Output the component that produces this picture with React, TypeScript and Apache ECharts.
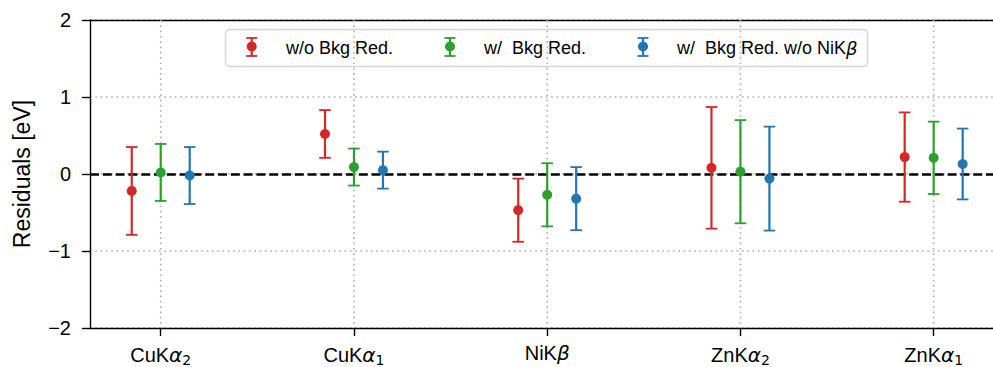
import React, { useEffect, useRef } from "react";
import * as echarts from "echarts";

// ---- data ----
const labelBase = ["CuK", "CuK", "NiK", "ZnK", "ZnK"];
const labelGreek = ["α", "α", "β", "α", "α"];
const labelSub = ["2", "1", "", "2", "1"];

const seriesNames = ["w/o Bkg Red.", "w/  Bkg Red.", "w/  Bkg Red. w/o NiK"];
const seriesNameGreek = ["", "", "β"];

const redValues = [-0.22, 0.52, -0.47, 0.08, 0.22];
const redErrors = [0.57, 0.31, 0.41, 0.79, 0.58];
const greenValues = [0.02, 0.09, -0.27, 0.03, 0.21];
const greenErrors = [0.37, 0.24, 0.41, 0.67, 0.47];
const blueValues = [-0.02, 0.05, -0.32, -0.06, 0.13];
const blueErrors = [0.37, 0.24, 0.41, 0.675, 0.46];

const yTicks = [-2, -1, 0, 1, 2];

// ---- styles ----
const COLORS = ["#d62728", "#2ca02c", "#1f77b4"];
const OFFSETS = [-0.15, 0, 0.15];
const FONT = "'Liberation Sans', Arial, Helvetica, sans-serif";
const MATH = "'DejaVu Sans', sans-serif";
const GRID_COLOR = "#b0b0b0";
const GRID_DASH = [1.7, 3.6];

const X_MIN = -0.366;
const X_MAX = 4.307;

export default function App() {
  const ref = useRef<HTMLDivElement>(null);

  useEffect(() => {
    if (!ref.current) return;
    const chart = echarts.init(ref.current, null, { renderer: "svg" });

    const valueSets = [redValues, greenValues, blueValues];
    const errorSets = [redErrors, greenErrors, blueErrors];
    const catIdx = labelBase.map((_, i) => i);

    const errSeries = valueSets.map((vals, s) => ({
      type: "custom",
      name: seriesNames[s] + seriesNameGreek[s],
      xAxisIndex: 0,
      yAxisIndex: 0,
      z: 5,
      data: vals.map((v, i) => [i + OFFSETS[s], v, errorSets[s][i]]),
      encode: { x: 0, y: 1 },
      renderItem: (params: any, api: any) => {
        const x = api.value(0);
        const v = api.value(1);
        const e = api.value(2);
        const c = api.coord([x, v]);
        const t = api.coord([x, v + e]);
        const b = api.coord([x, v - e]);
        const col = COLORS[s];
        return {
          type: "group",
          children: [
            { type: "line", shape: { x1: c[0], y1: t[1], x2: c[0], y2: b[1] }, style: { stroke: col, lineWidth: 2.2 } },
            { type: "line", shape: { x1: c[0] - 5.8, y1: t[1], x2: c[0] + 5.8, y2: t[1] }, style: { stroke: col, lineWidth: 1.8 } },
            { type: "line", shape: { x1: c[0] - 5.8, y1: b[1], x2: c[0] + 5.8, y2: b[1] }, style: { stroke: col, lineWidth: 1.8 } },
            { type: "circle", shape: { cx: c[0], cy: c[1], r: 5 }, style: { fill: col } },
          ],
        };
      },
    }));

    const gridSeries = {
      type: "custom",
      name: "vgrid",
      z: 1,
      silent: true,
      data: catIdx.map((i) => [i, 0]),
      encode: { x: 0, y: 1 },
      renderItem: (params: any, api: any) => {
        const x = api.value(0);
        const t = api.coord([x, 2]);
        const b = api.coord([x, -2]);
        return {
          type: "line",
          shape: { x1: t[0], y1: t[1], x2: b[0], y2: b[1] },
          style: { stroke: GRID_COLOR, lineWidth: 1.6, lineDash: GRID_DASH },
        };
      },
      markLine: {
        silent: true,
        symbol: ["none", "none"],
        label: { show: false },
        z: 3,
        lineStyle: { color: "#000", width: 2.5, type: [9, 3.8], opacity: 1 },
        emphasis: { disabled: true },
        data: [{ yAxis: 0 }],
      },
    };

    // legend drawn as graphic
    const legendIconX = [251.7, 450, 643];
    const legendTextX = [286, 484, 677];
    const legendY = 47;
    const legendChildren: any[] = [
      {
        type: "rect",
        shape: { x: 225.5, y: 29.5, width: 642, height: 37, r: 4 },
        style: { fill: "rgba(255,255,255,0.8)", stroke: "rgba(204,204,204,0.8)", lineWidth: 1.5 },
      },
    ];
    seriesNames.forEach((name, s) => {
      const cx = legendIconX[s];
      const col = COLORS[s];
      legendChildren.push(
        { type: "line", shape: { x1: cx, y1: legendY - 9, x2: cx, y2: legendY + 9 }, style: { stroke: col, lineWidth: 2.2 } },
        { type: "line", shape: { x1: cx - 5.5, y1: legendY - 9, x2: cx + 5.5, y2: legendY - 9 }, style: { stroke: col, lineWidth: 1.8 } },
        { type: "line", shape: { x1: cx - 5.5, y1: legendY + 9, x2: cx + 5.5, y2: legendY + 9 }, style: { stroke: col, lineWidth: 1.8 } },
        { type: "circle", shape: { cx: cx, cy: legendY - 0.5, r: 5 }, style: { fill: col } },
        {
          type: "text",
          x: legendTextX[s],
          y: legendY + 1,
          style: {
            text: `{n|${name}}` + (seriesNameGreek[s] ? `{g|${seriesNameGreek[s]}}` : ""),
            verticalAlign: "middle",
            align: "left",
            fill: "#000",
            rich: {
              n: { fontSize: 18, fontFamily: FONT, fill: "#000" },
              g: { fontSize: 18, fontFamily: MATH, fontStyle: "italic", fill: "#000" },
            },
          },
        }
      );
    });

    const option: any = {
      animation: false,
      backgroundColor: "#ffffff",
      grid: {
        left: 90,
        right: 0,
        top: 20,
        bottom: 39,
        containLabel: false,
        outerBoundsMode: "none",
      },
      xAxis: [
        {
          type: "value",
          position: "bottom",
          min: X_MIN,
          max: X_MAX,
          axisLine: { show: true, onZero: false, lineStyle: { color: "#000", width: 1.4 } },
          axisTick: { show: true, length: 8, inside: false, customValues: catIdx, lineStyle: { color: "#000", width: 1.4 } },
          axisLabel: {
            show: true,
            customValues: catIdx,
            margin: 15,
            color: "#000",
            formatter: (v: number) => {
              const i = Math.round(v);
              if (Math.abs(v - i) > 1e-6 || i < 0 || i >= labelBase.length) return "";
              return `{n|${labelBase[i]}}{g|${labelGreek[i]}}` + (labelSub[i] ? `{s|${labelSub[i]}}` : "");
            },
            rich: {
              n: { fontSize: 20, fontFamily: FONT, color: "#000" },
              g: { fontSize: 20, fontFamily: MATH, fontStyle: "italic", color: "#000" },
              s: { fontSize: 14, fontFamily: MATH, color: "#000", padding: [10, 0, 0, 0] },
            },
          },
          splitLine: { show: false },
        },
        {
          type: "value",
          position: "top",
          min: X_MIN,
          max: X_MAX,
          axisLine: { show: true, onZero: false, lineStyle: { color: "#000", width: 1.4 } },
          axisTick: { show: false },
          axisLabel: { show: false },
          splitLine: { show: false },
        },
      ],
      yAxis: {
        type: "value",
        min: yTicks[0],
        max: yTicks[yTicks.length - 1],
        interval: 1,
        name: "Residuals [eV]",
        nameLocation: "middle",
        nameGap: 57,
        nameTextStyle: { fontSize: 23, fontFamily: FONT, color: "#000" },
        axisLine: { show: true, onZero: false, lineStyle: { color: "#000", width: 1.4 } },
        axisTick: { show: true, length: 8, inside: false, lineStyle: { color: "#000", width: 1.4 } },
        axisLabel: {
          fontSize: 20,
          fontFamily: FONT,
          color: "#000",
          margin: 19,
          formatter: (v: number) => (v < 0 ? "\u2212" + String(-v) : String(v)),
        },
        splitLine: { show: true, lineStyle: { color: GRID_COLOR, width: 1.6, type: GRID_DASH } },
      },
      graphic: [{ type: "group", z: 100, children: legendChildren }],
      series: [gridSeries, ...errSeries],
    };

    chart.setOption(option);
    return () => {
      chart.dispose();
    };
  }, []);

  return (
    <div style={{ position: "fixed", left: 0, top: 0, width: 993, height: 367, background: "#fff" }}>
      <div ref={ref} style={{ width: 993, height: 367 }} />
    </div>
  );
}
